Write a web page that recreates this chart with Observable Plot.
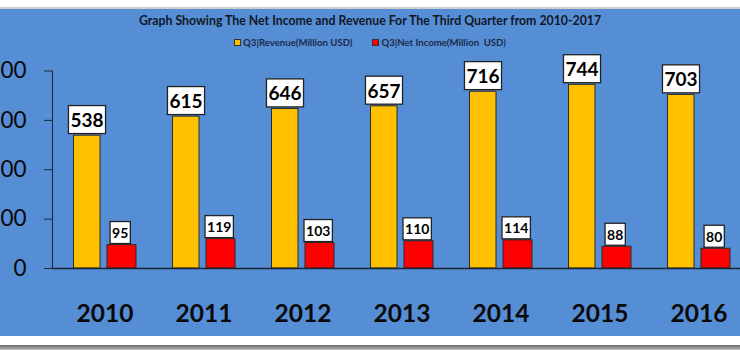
<!DOCTYPE html>
<html><head><meta charset="utf-8">
<script src="https://cdn.jsdelivr.net/npm/d3@7"></script>
<script src="https://cdn.jsdelivr.net/npm/@observablehq/plot@0.6"></script>
<style>
html,body{margin:0;padding:0;background:#fff;}
#wrap{position:relative;width:740px;height:350px;overflow:hidden;background:#fff;font-family:Lato,"Open Sans",sans-serif;}
#topline{position:absolute;left:0;top:7px;width:740px;height:2px;background:#cfcfcf;}
#panel{position:absolute;left:0;top:9px;width:740px;height:327px;background:#558ED5;}
#title{position:absolute;left:0;top:4px;width:740px;text-align:center;font-weight:700;font-size:12.3px;line-height:15px;color:#111827;}
#legend{position:absolute;left:0;top:27.5px;width:740px;display:flex;justify-content:center;gap:20px;font-weight:700;font-size:9.6px;line-height:12px;color:#1b2a4a;}
#legend span.sw{display:inline-block;width:5px;height:5px;border:1px solid #333;margin-right:2px;vertical-align:0px;}
#chart{position:absolute;left:0;top:0;}
#bottombar{position:absolute;left:0;top:345px;width:740px;height:5px;background:linear-gradient(#6a6a6a,#bdbdbd);}
#chart svg [aria-label^="x-axis"] text{font-size:24.5px;font-weight:700;fill:#0a0a0a;}
#chart svg [aria-label^="y-axis"] text{font-size:22.5px;font-weight:400;fill:#0a0a0a;}
</style></head>
<body>
<div id="wrap">
  <div id="topline"></div>
  <div id="panel">
    <div id="chart"></div>
    <div id="title"></div>
    <div id="legend"></div>
  </div>
  <div id="bottombar"></div>
</div>
<script>
const titleText = "Graph Showing The Net Income and Revenue For The Third Quarter from 2010-2017";
const years = ["2010","2011","2012","2013","2014","2015","2016"];
const revenue = [538, 615, 646, 657, 716, 744, 703];
const netIncome = [95, 119, 103, 110, 114, 88, 80];
const seriesNames = ["Q3|Revenue(Million USD)", "Q3|Net Income(Million  USD)"];
const seriesColors = ["#FFC000", "#FF0000"];
const yTicks = [0, 200, 400, 600, 800];

document.getElementById("title").textContent = titleText;
const leg = document.getElementById("legend");
seriesNames.forEach((n, i) => {
  const item = document.createElement("div");
  const sw = document.createElement("span");
  sw.className = "sw"; sw.style.background = seriesColors[i];
  item.appendChild(sw);
  item.appendChild(document.createTextNode(n));
  item.style.whiteSpace = "pre";
  leg.appendChild(item);
});

const data = years.map((y, i) => ({year: y, revenue: revenue[i], net: netIncome[i]}));

const chart = Plot.plot({
  width: 740, height: 327,
  marginTop: 61.5, marginBottom: 68, marginLeft: 52, marginRight: 0,
  style: {background: "transparent", fontFamily: "Lato, 'Open Sans', sans-serif", color: "#1b2533"},
  x: {domain: years, range: [53, 750], padding: 0, tickSize: 0, tickPadding: 36, label: null},
  y: {domain: [0, 800], range: [259, 61.5], ticks: yTicks, tickSize: 8, tickPadding: 18, label: null, line: true, tickFormat: d => String(d)},
  marks: [
    Plot.barY(data, {x: "year", y: "revenue", fill: seriesColors[0], stroke: "#2b2b2b", strokeWidth: 1, insetLeft: 18.5, insetRight: 54}),
    Plot.barY(data, {x: "year", y: "net", fill: seriesColors[1], stroke: "#2b2b2b", strokeWidth: 1, insetLeft: 52, insetRight: 18}),
    Plot.ruleY([0], {stroke: "#1b2533", strokeWidth: 1.6}),
    Plot.text(data, {x: "year", y: "revenue", text: d => String(d.revenue), dx: -18, dy: -14.7, fontSize: 19, fontWeight: 700, fill: "#000", lineAnchor: "middle"}),
    Plot.text(data, {x: "year", y: "net", text: d => String(d.net), dx: 15.2, dy: -11.5, fontSize: 14, fontWeight: 700, fill: "#000", lineAnchor: "middle"})
  ]
});
document.getElementById("chart").appendChild(chart);

// white label boxes behind the value labels
const boxH = [28, 22];
chart.querySelectorAll('g[aria-label="text"]').forEach((g, gi) => {
  g.querySelectorAll("text").forEach(t => {
    const b = t.getBBox();
    const h = boxH[gi] || 22, pad = 2;
    const r = document.createElementNS("http://www.w3.org/2000/svg", "rect");
    r.setAttribute("x", b.x - pad);
    r.setAttribute("width", b.width + 2 * pad);
    r.setAttribute("y", b.y + b.height / 2 - h / 2);
    r.setAttribute("height", h);
    r.setAttribute("fill", "#fff");
    r.setAttribute("stroke", "#222");
    r.setAttribute("stroke-width", 1.3);
    const tr = t.getAttribute("transform");
    if (tr) r.setAttribute("transform", tr);
    g.insertBefore(r, t);
  });
});
</script>
</body></html>
